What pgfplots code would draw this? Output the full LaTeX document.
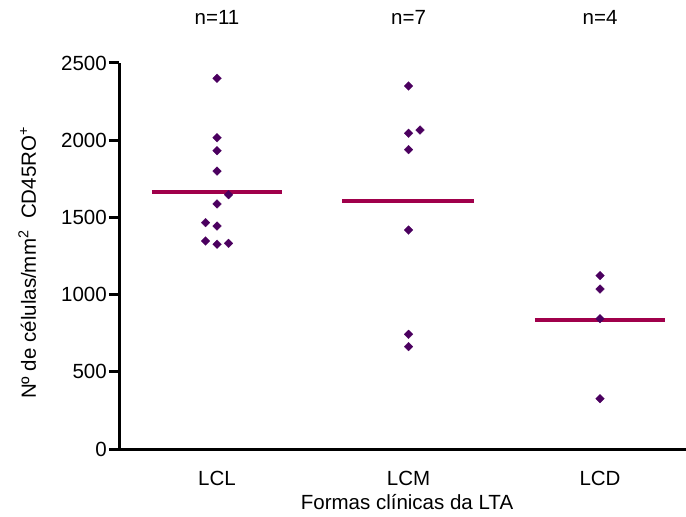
\documentclass[border=0pt]{standalone}
\usepackage{pgfplots}
\pgfplotsset{compat=1.18}
\usepackage{fontspec}
\setmainfont{Liberation Sans}
\definecolor{ptc}{RGB}{75,0,95}
\definecolor{medc}{RGB}{160,0,75}
\begin{document}
\begin{tikzpicture}
\useasboundingbox (0,0) rectangle (686pt,517pt);
\begin{axis}[
  at={(119pt,68pt)}, anchor=south west,
  scale only axis, width=567pt, height=386pt,
  xmin=0.488, xmax=3.449, ymin=0, ymax=2500,
  axis x line=bottom, axis y line=left,
  axis line style={-, line width=3pt, black},
  xtick={1,2,3}, xticklabels={LCL,LCM,LCD},
  xtick style={draw=none},
  ytick={0,500,1000,1500,2000,2500},
  ytick style={line width=3pt, black},
  tick align=outside, major tick length=10pt,
  /pgf/number format/assume math mode=true,
  /pgf/number format/1000 sep={},
  ticklabel style={font=\fontsize{20.5}{24}\selectfont},
  yticklabel style={inner xsep=2pt},
  xticklabel style={anchor=base, yshift=-26pt},
  label style={font=\fontsize{20.5}{24}\selectfont},
  xlabel={Formas clínicas da LTA},
  xlabel style={at={(axis description cs:0.508,-0.158)}, anchor=base},
  ylabel={Nº de células/mm\textsuperscript{2}\ \ CD45RO\textsuperscript{+}},
  ylabel style={at={(axis description cs:-0.1464,0.482)}, anchor=base},
  clip=false,
]
% mean lines
\addplot[medc, line width=3.8pt, no marks] coordinates {(0.66,1662) (1.34,1662)};
\addplot[medc, line width=3.8pt, no marks] coordinates {(1.655,1604) (2.34,1604)};
\addplot[medc, line width=3.8pt, no marks] coordinates {(2.66,835) (3.34,835)};
% points
\addplot[only marks, mark=square*, mark size=3.1pt, mark options={rotate=45, fill=ptc, draw=ptc, line width=0.2pt}] coordinates {
 (1,2401) (1,2016) (1,1932) (1,1800) (1.06,1647) (1,1587) (0.94,1466) (1,1444) (0.94,1347) (1,1326) (1.06,1332)
};
\addplot[only marks, mark=square*, mark size=3.1pt, mark options={rotate=45, fill=ptc, draw=ptc, line width=0.2pt}] coordinates {
 (2,2351) (2.06,2066) (2,2045) (2,1939) (2,1418) (2,743) (2,663)
};
\addplot[only marks, mark=square*, mark size=3.1pt, mark options={rotate=45, fill=ptc, draw=ptc, line width=0.2pt}] coordinates {
 (3,1123) (3,1036) (3,844) (3,326)
};
\node[anchor=base, font=\fontsize{20.5}{24}\selectfont, yshift=38pt] at (axis cs:1,2500) {n=11};
\node[anchor=base, font=\fontsize{20.5}{24}\selectfont, yshift=38pt] at (axis cs:2,2500) {n=7};
\node[anchor=base, font=\fontsize{20.5}{24}\selectfont, yshift=38pt] at (axis cs:3,2500) {n=4};
\end{axis}
\end{tikzpicture}
\end{document}
